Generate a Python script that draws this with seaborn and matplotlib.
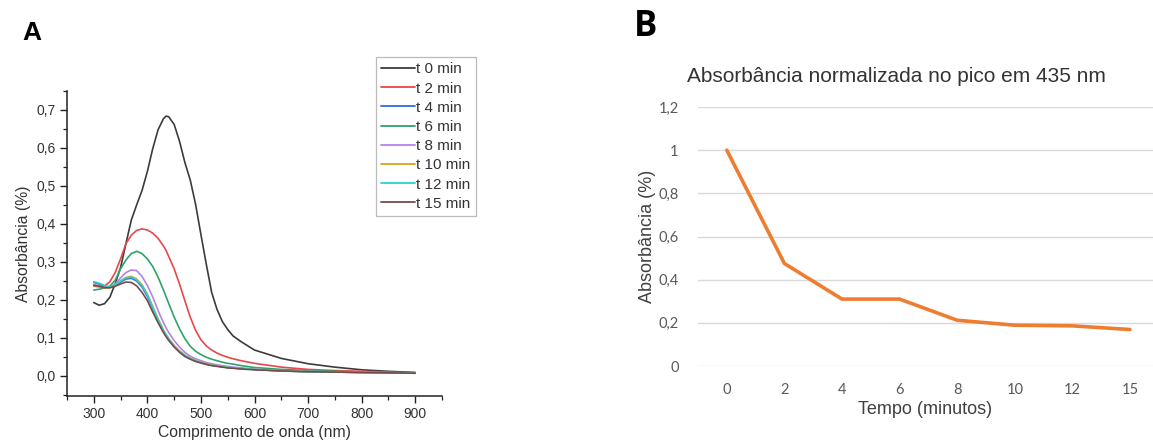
import numpy as np
import pandas as pd
import matplotlib
matplotlib.use("Agg")
import matplotlib.pyplot as plt
from matplotlib.ticker import MultipleLocator, FuncFormatter
import seaborn as sns

# ---------------- data: panel A (UV-Vis spectra) ----------------
wavelength = [300, 310, 320, 330, 340, 350, 360, 370, 380, 390, 400, 410, 420, 430, 435,
              440, 450, 460, 470, 480, 490, 500, 510, 520, 530, 540, 550, 560, 575, 600,
              650, 700, 750, 800, 850, 900]

abs_t0 = [0.193, 0.186, 0.190, 0.207, 0.243, 0.285, 0.348, 0.410, 0.450, 0.488, 0.538, 0.598,
          0.648, 0.677, 0.684, 0.682, 0.662, 0.618, 0.562, 0.516, 0.452, 0.372, 0.294, 0.220,
          0.175, 0.143, 0.122, 0.105, 0.090, 0.068, 0.046, 0.032, 0.023, 0.016, 0.012, 0.009]
abs_t2 = [0.240, 0.236, 0.236, 0.248, 0.272, 0.308, 0.348, 0.370, 0.383, 0.387, 0.384, 0.376,
          0.362, 0.342, 0.330, 0.314, 0.282, 0.242, 0.198, 0.155, 0.120, 0.095, 0.079, 0.068,
          0.060, 0.054, 0.049, 0.045, 0.040, 0.033, 0.023, 0.017, 0.014, 0.012, 0.010, 0.008]
abs_t4 = [0.246, 0.242, 0.236, 0.233, 0.238, 0.247, 0.255, 0.257, 0.250, 0.234, 0.209, 0.178,
          0.145, 0.117, 0.106, 0.095, 0.078, 0.064, 0.053, 0.045, 0.039, 0.035, 0.031, 0.028,
          0.026, 0.024, 0.022, 0.021, 0.019, 0.017, 0.013, 0.011, 0.010, 0.009, 0.008, 0.007]
abs_t6 = [0.226, 0.228, 0.232, 0.236, 0.252, 0.282, 0.305, 0.322, 0.328, 0.322, 0.308, 0.288,
          0.260, 0.226, 0.208, 0.190, 0.155, 0.124, 0.098, 0.078, 0.065, 0.056, 0.049, 0.044,
          0.040, 0.036, 0.033, 0.031, 0.027, 0.022, 0.017, 0.014, 0.012, 0.010, 0.009, 0.008]
abs_t8 = [0.240, 0.236, 0.233, 0.233, 0.242, 0.258, 0.272, 0.279, 0.277, 0.262, 0.238, 0.208,
          0.172, 0.140, 0.126, 0.114, 0.093, 0.076, 0.062, 0.052, 0.045, 0.040, 0.035, 0.032,
          0.029, 0.027, 0.025, 0.023, 0.021, 0.018, 0.014, 0.012, 0.010, 0.009, 0.008, 0.007]
abs_t10 = [0.236, 0.234, 0.232, 0.232, 0.240, 0.250, 0.259, 0.262, 0.255, 0.240, 0.215, 0.183,
           0.150, 0.121, 0.109, 0.098, 0.080, 0.066, 0.055, 0.047, 0.040, 0.036, 0.032, 0.029,
           0.026, 0.024, 0.022, 0.021, 0.019, 0.017, 0.013, 0.011, 0.010, 0.009, 0.008, 0.007]
abs_t12 = [0.248, 0.244, 0.238, 0.234, 0.240, 0.250, 0.258, 0.260, 0.253, 0.238, 0.213, 0.181,
           0.148, 0.119, 0.108, 0.097, 0.079, 0.065, 0.054, 0.046, 0.040, 0.035, 0.031, 0.028,
           0.026, 0.024, 0.022, 0.021, 0.019, 0.017, 0.013, 0.011, 0.010, 0.009, 0.008, 0.007]
abs_t15 = [0.238, 0.236, 0.232, 0.232, 0.236, 0.242, 0.247, 0.246, 0.237, 0.220, 0.198, 0.168,
           0.140, 0.114, 0.103, 0.093, 0.076, 0.062, 0.051, 0.044, 0.038, 0.034, 0.030, 0.027,
           0.025, 0.023, 0.021, 0.020, 0.018, 0.016, 0.013, 0.011, 0.010, 0.009, 0.008, 0.007]

series_labels = ["t 0 min", "t 2 min", "t 4 min", "t 6 min", "t 8 min",
                 "t 10 min", "t 12 min", "t 15 min"]
series_values = [abs_t0, abs_t2, abs_t4, abs_t6, abs_t8, abs_t10, abs_t12, abs_t15]
series_colors = ["#3c3c3c", "#e8474c", "#2f6fd6", "#2ea36a", "#b483e8",
                 "#d9a21b", "#2fd0c9", "#7a4a4a"]

# ---------------- data: panel B (normalized absorbance at 435 nm) ----------------
tempo_labels = ["0", "2", "4", "6", "8", "10", "12", "15"]
abs_norm = [1.0, 0.475, 0.31, 0.31, 0.212, 0.189, 0.186, 0.169]

# ---------------- figure ----------------
sns.set_theme(style="white")
plt.rcParams["font.family"] = ["Liberation Sans", "DejaVu Sans"]

fig = plt.figure(figsize=(11.53, 4.41), dpi=100)
W, H = 1153, 441

def rect(l, t, r, b):
    return [l / W, 1 - b / H, (r - l) / W, (b - t) / H]

# ---- Panel A ----
axA = fig.add_axes(rect(67, 91, 442, 396))
rows = []
for lab, vals in zip(series_labels, series_values):
    for w, v in zip(wavelength, vals):
        rows.append((lab, w, v))
dfA = pd.DataFrame(rows, columns=["serie", "wl", "abs"])
sns.lineplot(data=dfA, x="wl", y="abs", hue="serie", hue_order=series_labels,
             palette=dict(zip(series_labels, series_colors)), estimator=None,
             sort=False, linewidth=1.2, ax=axA, legend=False)

axA.set_xlim(250, 950)
axA.set_ylim(-0.053, 0.75)
axA.xaxis.set_minor_locator(MultipleLocator(50))
axA.yaxis.set_minor_locator(MultipleLocator(0.05))
axA.set_xticks([300, 400, 500, 600, 700, 800, 900])
axA.set_yticks([0.0, 0.1, 0.2, 0.3, 0.4, 0.5, 0.6, 0.7])
axA.yaxis.set_major_formatter(FuncFormatter(lambda v, p: f"{v:.1f}".replace(".", ",").replace("-0,0", "0,0")))
for s in ["top", "right"]:
    axA.spines[s].set_visible(False)
for s in ["left", "bottom"]:
    axA.spines[s].set_color("#222222")
    axA.spines[s].set_linewidth(1.1)
axA.tick_params(axis="both", which="major", direction="out", length=5, width=1.0,
                color="#222222", labelsize=10, labelcolor="#333333", pad=3,
                bottom=True, left=True)
axA.tick_params(axis="both", which="minor", direction="out", length=3, width=0.9,
                color="#222222", bottom=True, left=True)
axA.set_xlabel("Comprimento de onda (nm)", fontsize=11.3, color="#333333", labelpad=3)
axA.set_ylabel("Absorbância (%)", fontsize=11.3, color="#333333", labelpad=4)

handles = [plt.Line2D([0], [0], color=c, lw=1.3) for c in series_colors]
leg = axA.legend(handles, series_labels, loc="upper right",
                 bbox_to_anchor=(476 / W, 1 - 57 / H), bbox_transform=fig.transFigure,
                 fontsize=11, frameon=True, fancybox=False, handlelength=2.2,
                 handletextpad=0.1, labelspacing=0.34, borderpad=0.35,
                 borderaxespad=0.0)
leg.get_frame().set_edgecolor("#aaaaaa")
leg.get_frame().set_linewidth(0.9)
for t in leg.get_texts():
    t.set_color("#333333")

fig.text(22 / W, 1 - 40 / H, "A", fontsize=19, fontweight="bold",
         family=["Liberation Sans", "DejaVu Sans"], ha="left", va="baseline", color="black")

# ---- Panel B ----
axB = fig.add_axes(rect(698, 107, 1153, 366))
dfB = pd.DataFrame({"tempo": tempo_labels, "abs": abs_norm})
sns.lineplot(data=dfB, x="tempo", y="abs", color="#ED7D31", linewidth=2.6,
             sort=False, ax=axB)
axB.set_xlim(-0.5, 7.4)
axB.set_ylim(0, 1.2)
axB.set_yticks([0, 0.2, 0.4, 0.6, 0.8, 1.0, 1.2])
axB.yaxis.set_major_formatter(FuncFormatter(lambda v, p: f"{v:g}".replace(".", ",")))
axB.grid(axis="y", color="#d9d9d9", linewidth=1.0)
axB.grid(axis="x", visible=False)
axB.set_axisbelow(True)
for s in axB.spines.values():
    s.set_visible(False)
axB.tick_params(axis="both", length=0, labelsize=10.5, labelcolor="#595959")
axB.tick_params(axis="y", pad=14)
axB.tick_params(axis="x", pad=12)
for lbl in axB.get_xticklabels() + axB.get_yticklabels():
    lbl.set_family(["Lato", "DejaVu Sans"])
axB.set_xlabel("Tempo (minutos)", fontsize=13, color="#404040", labelpad=3)
axB.set_ylabel("Absorbância (%)", fontsize=13, color="#404040", labelpad=2)
axB.set_title("Absorbância normalizada no pico em 435 nm", fontsize=15,
              color="#333333", pad=18, x=0.436)

fig.text(634 / W, 1 - 36 / H, "B", fontsize=25, fontweight="bold",
         family=["Open Sans", "DejaVu Sans"], ha="left", va="baseline", color="black")

fig.savefig("out.png", dpi=100, facecolor="white")
